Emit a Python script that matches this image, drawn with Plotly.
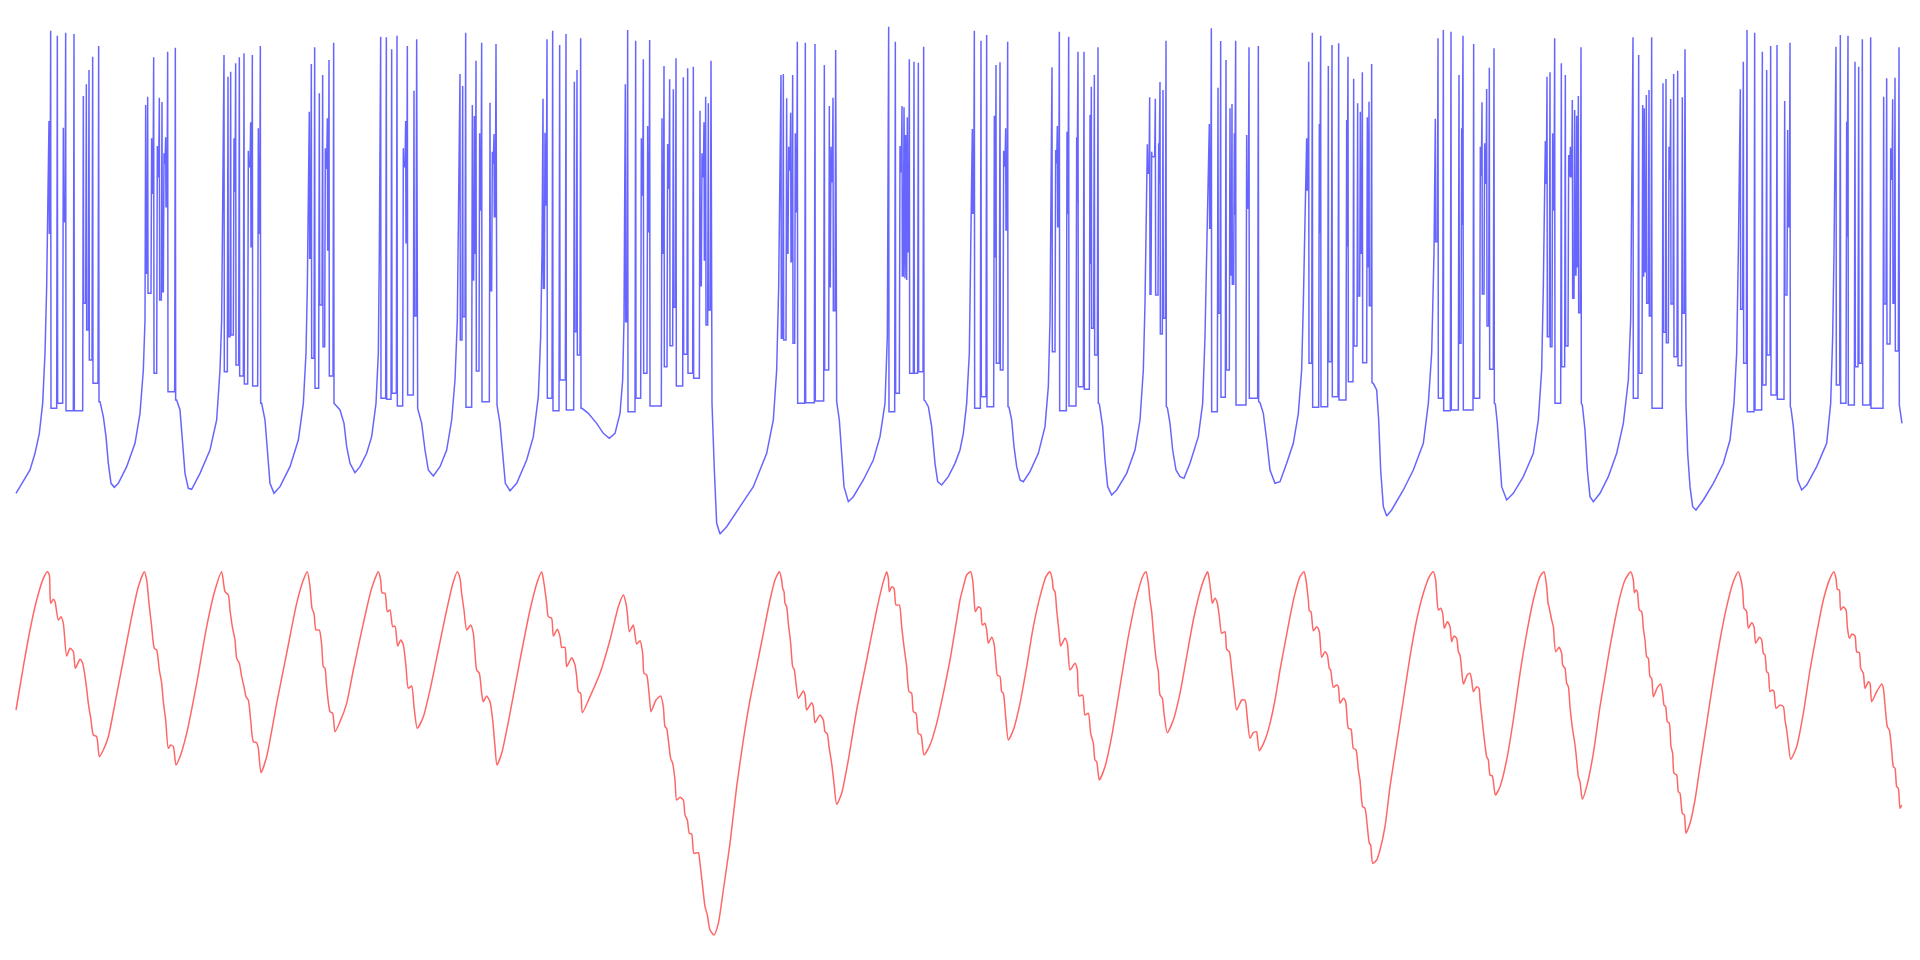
import plotly.graph_objects as go

# ---------------- Blue trace: fast variable (membrane potential, arbitrary units) ----------------
# Each spike: time, peak value, value of the trough that follows it
spike_time = [
    147, 152, 172, 190, 197, 222, 250, 259, 267, 278, 296,
    437, 443, 455, 461, 472, 478, 486, 492, 497, 503, 526,
    672, 684, 692, 702, 707, 718, 732, 745, 752, 757, 775, 781,
    928, 934, 944, 958, 968, 976, 982, 987, 1001,
    1142, 1159, 1175, 1191, 1210, 1217, 1222, 1242, 1250,
    1380, 1388, 1397, 1417, 1423, 1428, 1439, 1445, 1470, 1477, 1482, 1488,
    1629, 1635, 1641, 1658, 1679, 1698, 1723, 1731, 1742,
    1876, 1883, 1907, 1924, 1930, 1943, 1949, 1986, 1992, 2003, 2009, 2020, 2028, 2050, 2063, 2080, 2100, 2106, 2112, 2117, 2125, 2133,
    2343, 2350, 2360, 2366, 2372, 2378, 2386, 2392, 2416, 2445, 2473, 2488, 2493, 2499, 2507,
    2666, 2686, 2700, 2706, 2712, 2717, 2722, 2728, 2742, 2755, 2771,
    2917, 2923, 2943, 2960, 2983, 2988, 3000, 3011, 3017, 3023,
    3156, 3167, 3172, 3178, 3201, 3206, 3230, 3234, 3252, 3270, 3274, 3283, 3294,
    3442, 3449, 3455, 3466, 3476, 3480, 3489, 3498,
    3628, 3634, 3654, 3662, 3678, 3690, 3696, 3703, 3707, 3740, 3747, 3775,
    3920, 3926, 3937, 3958, 3962, 3985, 3996, 4016, 4040, 4044, 4061, 4073, 4081, 4087, 4102, 4107, 4115,
    4306, 4314, 4330, 4353, 4377, 4385, 4389, 4421, 4441, 4446, 4454, 4460, 4468, 4482,
    4636, 4641, 4650, 4658, 4664, 4684, 4696, 4706, 4711, 4717, 4724, 4730, 4735, 4743,
    4899, 4916, 4928, 4933, 4939, 4947, 4955, 4989, 4998, 5007, 5012, 5021, 5033, 5047, 5055,
    5221, 5230, 5241, 5264, 5287, 5300, 5312, 5331, 5354, 5363, 5370,
    5508, 5521, 5540, 5544, 5565, 5576, 5587, 5612, 5651, 5660, 5672, 5678, 5685, 5697,
]
spike_peak = [
    1297, 1568, 1553, 1277, 1562, 1558, 1372, 1407, 1450, 1490, 1522,
    1345, 1370, 1245, 1488, 1222, 1367, 1354, 1200, 1248, 1505, 1517,
    1495, 1430, 1445, 1245, 1470, 1488, 1500, 1208, 1293, 1495, 1275, 1522,
    1325, 1468, 1518, 1380, 1435, 1215, 1305, 1480, 1532,
    1550, 1548, 1512, 1553, 1215, 1297, 1522, 1388, 1542,
    1438, 1402, 1562, 1345, 1312, 1478, 1260, 1532, 1352, 1205, 1258, 1528,
    1364, 1262, 1542, 1568, 1525, 1558, 1415, 1450, 1545,
    1407, 1570, 1538, 1245, 1482, 1282, 1540, 1305, 1462, 1228, 1422, 1392, 1485, 1428, 1455, 1460, 1328, 1200, 1293, 1370, 1350, 1478,
    1435, 1438, 1365, 1220, 1322, 1435, 1260, 1535, 1532, 1528, 1465, 1342, 1220, 1367, 1510,
    1580, 1535, 1222, 1342, 1338, 1255, 1308, 1482, 1475, 1472, 1520,
    1273, 1568, 1538, 1555, 1313, 1465, 1473, 1208, 1275, 1535,
    1458, 1210, 1282, 1565, 1265, 1550, 1248, 1505, 1505, 1315, 1400, 1435, 1518,
    1227, 1368, 1205, 1364, 1230, 1414, 1390, 1538,
    1288, 1575, 1397, 1537, 1480, 1335, 1348, 1260, 1538, 1255, 1518, 1522,
    1245, 1475, 1562, 1288, 1553, 1462, 1525, 1530, 1300, 1490, 1424, 1350, 1325, 1443, 1308, 1355, 1468,
    1304, 1545, 1570, 1565, 1435, 1275, 1553, 1528, 1220, 1353, 1230, 1393, 1457, 1515,
    1237, 1430, 1443, 1260, 1545, 1470, 1435, 1195, 1220, 1360, 1330, 1313, 1372, 1518,
    1548, 1495, 1345, 1335, 1375, 1390, 1548, 1410, 1423, 1220, 1363, 1438, 1448, 1368, 1512,
    1392, 1475, 1570, 1562, 1505, 1450, 1522, 1525, 1357, 1270, 1532,
    1520, 1555, 1295, 1553, 1475, 1460, 1542, 1548, 1370, 1425, 1215, 1362, 1427, 1518,
]
spike_trough = [
    960, 435, 450, 995, 428, 428, 750, 670, 580, 510, 455,
    840, 780, 1080, 540, 1130, 760, 785, 1170, 1040, 485, 460,
    545, 650, 655, 1085, 565, 532, 508, 1160, 920, 502, 960, 450,
    885, 585, 495, 745, 620, 1155, 910, 532, 450,
    465, 462, 480, 442, 1160, 932, 475, 712, 440,
    640, 710, 438, 820, 900, 547, 1030, 455, 788, 1170, 1010, 450,
    795, 1045, 465, 428, 520, 430, 665, 595, 435,
    695, 425, 465, 1075, 540, 965, 442, 900, 560, 1095, 623, 738, 502, 597, 540, 525, 803, 1130, 880, 685, 730, 460,
    645, 640, 900, 1150, 875, 630, 1025, 450, 452, 457, 550, 800, 1115, 728, 460,
    425, 480, 1145, 832, 825, 820, 905, 540, 540, 545, 460,
    1020, 435, 470, 440, 890, 570, 550, 1162, 970, 440,
    605, 1170, 980, 428, 1017, 442, 1055, 500, 492, 868, 675, 595, 450,
    1140, 777, 1190, 775, 1110, 658, 705, 440,
    975, 425, 720, 468, 550, 835, 807, 1015, 445, 1035, 465, 455,
    1090, 570, 438, 960, 440, 575, 470, 460, 920, 515, 622, 772, 900, 572, 860, 743, 512,
    935, 465, 428, 430, 630, 985, 430, 465, 1132, 778, 1110, 682, 552, 450,
    1110, 650, 620, 1030, 450, 560, 622, 1130, 1130, 765, 835, 860, 722, 450,
    465, 540, 830, 845, 750, 712, 435, 663, 632, 1120, 748, 590, 563, 720, 450,
    732, 570, 425, 430, 505, 595, 475, 462, 775, 980, 440,
    505, 450, 950, 445, 560, 570, 445, 435, 748, 628, 1122, 750, 607, 445,
]
# Slow recovery between bursts
rest_time = [
    48, 70, 90, 105, 118, 128, 135, 140, 143,
    300, 310, 318, 325, 333, 343, 355, 380, 405, 420, 430, 435,
    530, 540, 548, 555, 565, 575, 600, 630, 650, 660, 665,
    785, 795, 802, 810, 822, 840, 870, 895, 910, 918, 922,
    1004, 1020, 1032, 1040, 1050, 1065, 1080, 1100, 1115, 1128, 1135, 1138,
    1253, 1265, 1275, 1285, 1300, 1320, 1340, 1355, 1365, 1372,
    1491, 1500, 1508, 1516, 1530, 1550, 1580, 1600, 1615, 1622, 1626,
    1746, 1765, 1790, 1810, 1828, 1845, 1860, 1868, 1872,
    2136, 2143, 2150, 2160, 2180, 2220, 2260, 2300, 2320, 2330, 2336,
    2510, 2518, 2525, 2532, 2545, 2560, 2590, 2620, 2640, 2655, 2662,
    2775, 2785, 2795, 2805, 2813, 2825, 2845, 2865, 2880, 2890, 2900, 2908, 2912,
    3027, 3035, 3042, 3050, 3060, 3070, 3090, 3115, 3135, 3145, 3150,
    3298, 3308, 3315, 3323, 3335, 3350, 3380, 3405, 3420, 3430, 3435,
    3502, 3510, 3518, 3528, 3540, 3552, 3570, 3595, 3608, 3615, 3620,
    3780, 3790, 3800, 3810, 3825, 3840, 3860, 3880, 3895, 3905, 3910,
    4120, 4130, 4136, 4142, 4150, 4160, 4175, 4210, 4240, 4270, 4285, 4295, 4302,
    4486, 4492, 4498, 4505, 4520, 4540, 4570, 4600, 4615, 4625, 4630,
    4747, 4755, 4762, 4770, 4780, 4800, 4825, 4850, 4870, 4885, 4892,
    5058, 5063, 5070, 5078, 5088, 5110, 5140, 5170, 5190, 5202, 5210, 5215,
    5373, 5380, 5386, 5393, 5405, 5420, 5450, 5480, 5492, 5498, 5502,
    5706,
]
rest_value = [
    180, 215, 250, 300, 360, 450, 600, 800, 1000,
    455, 410, 350, 270, 210, 198, 210, 260, 330, 420, 550, 700,
    460, 430, 340, 240, 195, 192, 240, 310, 400, 550, 700,
    450, 400, 310, 210, 180, 200, 260, 340, 450, 600, 800,
    448, 430, 390, 320, 270, 242, 260, 300, 350, 450, 600, 900,
    435, 390, 310, 250, 232, 260, 310, 400, 520, 700,
    445, 390, 300, 210, 188, 210, 280, 350, 470, 650, 900,
    435, 420, 390, 360, 345, 360, 420, 520, 700,
    450, 250, 90, 58, 80, 140, 200, 300, 400, 550, 800,
    455, 400, 300, 200, 155, 170, 220, 280, 350, 450, 650,
    458, 440, 380, 270, 215, 205, 230, 270, 310, 360, 450, 600, 900,
    438, 400, 320, 260, 220, 215, 245, 300, 380, 500, 700,
    448, 380, 280, 200, 175, 190, 240, 310, 400, 550, 750,
    438, 390, 310, 250, 230, 225, 270, 350, 450, 650, 900,
    452, 420, 340, 250, 210, 215, 270, 330, 420, 550, 750,
    510, 490, 400, 250, 140, 112, 130, 190, 250, 330, 450, 600, 900,
    448, 390, 300, 200, 160, 180, 230, 300, 400, 550, 800,
    445, 370, 250, 170, 155, 180, 230, 300, 390, 520, 700,
    448, 300, 200, 140, 130, 160, 210, 270, 340, 450, 600, 900,
    435, 380, 300, 220, 190, 205, 260, 330, 450, 650, 900,
    390,
]

# ---------------- Red trace: slow adaptation variable (arbitrary units) ----------------
red_t = [
    48, 70, 90, 110, 130, 142, 148, 152, 160, 165, 175, 183, 190, 200, 210, 220, 226, 240, 248, 258, 265, 273, 280, 290, 298,
    310, 325, 345, 370, 395, 415, 433, 440, 447, 455, 463, 470, 478, 485, 490, 497, 505, 512, 520, 528,
    540, 560, 590, 620, 645, 665, 675, 685, 690, 697, 705, 710, 718, 725, 732, 738, 745, 752, 760, 770, 775, 783,
    800, 830, 860, 890, 910, 922, 930, 936, 942, 948, 958, 965, 970, 975, 980, 990, 998, 1005,
    1020, 1040, 1060, 1090, 1115, 1135, 1142, 1146, 1155, 1162, 1170, 1178, 1185, 1193, 1202, 1210, 1218, 1225, 1235, 1242, 1252,
    1270, 1290, 1315, 1340, 1360, 1372, 1380, 1385, 1392, 1400, 1412, 1420, 1425, 1430, 1438, 1445, 1450, 1460, 1470, 1478, 1485, 1491,
    1505, 1530, 1560, 1590, 1612, 1625, 1632, 1640, 1645, 1655, 1660, 1672, 1680, 1685, 1695, 1700, 1715, 1725, 1730, 1735, 1742, 1747,
    1770, 1800, 1830, 1855, 1870, 1878, 1882, 1888, 1900, 1910, 1920, 1928, 1932, 1940, 1948, 1953, 1968, 1982, 1990, 1995,
    2000, 2005, 2012, 2018, 2025, 2030, 2040, 2050, 2055, 2062, 2068, 2075, 2082, 2095, 2100, 2108, 2115, 2122, 2130, 2142,
    2155, 2170, 2190, 2210, 2230, 2250, 2270, 2290, 2310, 2325, 2338, 2345, 2348, 2352, 2355, 2360, 2365, 2372, 2378, 2383,
    2388, 2395, 2410, 2415, 2420, 2435, 2440, 2445, 2460, 2470, 2475, 2482, 2487, 2495, 2502, 2510,
    2525, 2545, 2570, 2600, 2630, 2650, 2660, 2665, 2668, 2675, 2682, 2688, 2698, 2705, 2712, 2720, 2727, 2735, 2740, 2748, 2755, 2763, 2772,
    2790, 2810, 2830, 2850, 2870, 2880, 2890, 2900, 2912, 2918, 2922, 2926, 2935, 2942, 2947, 2955, 2960, 2965, 2975, 2982,
    2987, 2992, 3000, 3005, 3010, 3017, 3025,
    3040, 3060, 3080, 3100, 3120, 3138, 3150, 3157, 3160, 3165, 3170, 3177, 3182, 3195, 3202, 3210, 3225, 3232, 3237, 3248,
    3255, 3265, 3272, 3280, 3285, 3290, 3298,
    3315, 3335, 3360, 3385, 3410, 3430, 3438, 3445, 3450, 3455, 3460, 3468, 3475, 3480, 3487, 3492, 3502,
    3520, 3540, 3560, 3580, 3600, 3615, 3623, 3628, 3633, 3637, 3645, 3652, 3658, 3665, 3675, 3680, 3688, 3695, 3702, 3710,
    3725, 3735, 3742, 3750, 3760, 3770, 3772, 3778,
    3795, 3810, 3825, 3840, 3855, 3870, 3885, 3900, 3912, 3918, 3925, 3928, 3933, 3940, 3950, 3958, 3965, 3975, 3982, 3988,
    3992, 4000, 4010, 4015, 4020, 4030, 4037, 4045, 4053, 4060, 4068, 4075, 4080, 4088, 4095, 4102, 4108, 4112, 4118,
    4130, 4140, 4155, 4170, 4190, 4210, 4230, 4250, 4270, 4288, 4300, 4307, 4310, 4315, 4322, 4328, 4333, 4342, 4350, 4355,
    4362, 4370, 4375, 4380, 4385, 4390, 4402, 4410, 4415, 4420, 4430, 4437, 4440, 4446, 4452, 4460, 4465, 4470, 4477, 4486,
    4500, 4520, 4540, 4560, 4580, 4600, 4620, 4632, 4640, 4644, 4648, 4655, 4660, 4667, 4677, 4685, 4688, 4695, 4700, 4705,
    4710, 4718, 4723, 4728, 4735, 4740, 4747,
    4760, 4780, 4800, 4815, 4830, 4845, 4860, 4875, 4892, 4900, 4903, 4908, 4912, 4918, 4925, 4930, 4935, 4940, 4945, 4950,
    4955, 4960, 4972, 4982, 4988, 4992, 4997, 5002, 5008, 5013, 5018, 5022, 5030, 5035, 5040, 5047, 5053, 5058,
    5070, 5085, 5100, 5120, 5140, 5160, 5180, 5200, 5215, 5223, 5228, 5232, 5237, 5240, 5245, 5255, 5262, 5267, 5278, 5285,
    5290, 5295, 5300, 5305, 5310, 5317, 5322, 5328, 5340, 5350, 5355, 5360, 5365, 5372,
    5390, 5410, 5430, 5450, 5470, 5490, 5502, 5508, 5512, 5518, 5522, 5530, 5538, 5542, 5548, 5556, 5565, 5570, 5578, 5582,
    5590, 5595, 5605, 5610, 5615, 5630, 5645, 5650, 5655, 5662, 5668, 5675, 5680, 5685, 5690, 5695, 5700, 5705,
]
red_u = [
    750, 880, 990, 1080, 1145, 1165, 1155, 1070, 1082, 1075, 1020, 1030, 1010, 912, 935, 925, 875, 902, 890, 830, 770, 720, 675, 670, 610,
    630, 670, 770, 900, 1030, 1120, 1165, 1140, 1070, 1000, 935, 930, 870, 830, 775, 720, 635, 645, 640, 585,
    610, 680, 830, 1000, 1110, 1165, 1105, 1095, 1050, 1000, 960, 905, 890, 850, 820, 790, 780, 720, 655, 652, 635, 562,
    610, 770, 920, 1070, 1140, 1165, 1120, 1055, 1040, 990, 990, 945, 880, 875, 820, 745, 740, 685,
    715, 770, 870, 1010, 1115, 1165, 1140, 1102, 1100, 1045, 1050, 1000, 1002, 942, 960, 945, 880, 815, 822, 760, 695,
    730, 810, 930, 1050, 1135, 1165, 1145, 1100, 1050, 990, 1005, 980, 920, 870, 860, 800, 775, 792, 775, 720, 640, 585,
    620, 740, 900, 1050, 1135, 1165, 1130, 1070, 1030, 1025, 972, 992, 970, 938, 938, 880, 907, 885, 850, 805, 800, 742,
    790, 860, 960, 1060, 1095, 1070, 1040, 985, 1005, 948, 958, 920, 860, 855, 790, 745, 780, 792, 760, 700,
    695, 660, 605, 590, 540, 480, 488, 480, 435, 420, 380, 378, 320, 322, 290, 220, 160, 135, 90, 75,
    110, 210, 350, 520, 660, 780, 880, 980, 1080, 1140, 1165, 1140, 1115, 1105, 1070, 1060, 1010, 950, 880, 870,
    830, 785, 807, 795, 750, 772, 760, 712, 735, 720, 685, 678, 640, 590, 530, 467,
    500, 600, 750, 900, 1050, 1135, 1165, 1145, 1105, 1120, 1115, 1065, 1065, 1000, 940, 880, 805, 800, 745, 740, 680, 675, 615,
    645, 710, 800, 900, 1020, 1080, 1120, 1155, 1165, 1140, 1090, 1045, 1060, 1055, 1005, 1010, 990, 950, 968, 950,
    900, 855, 850, 805, 800, 730, 660,
    690, 770, 880, 1000, 1090, 1150, 1165, 1140, 1112, 1105, 1050, 985, 942, 965, 950, 870, 890, 870, 792, 795,
    735, 740, 680, 650, 600, 595, 540,
    580, 670, 820, 970, 1090, 1155, 1165, 1130, 1080, 1045, 985, 905, 865, 795, 785, 740, 682,
    720, 800, 910, 1020, 1105, 1150, 1165, 1140, 1100, 1070, 1085, 1070, 1030, 980, 985, 932, 925, 870, 810, 750,
    780, 780, 725, 665, 682, 685, 670, 628,
    660, 710, 780, 870, 950, 1030, 1100, 1150, 1165, 1140, 1080, 1048, 1045, 988, 1000, 985, 908, 925, 915, 875,
    870, 818, 825, 820, 770, 785, 775, 695, 692, 635, 630, 570, 540, 460, 455, 400, 350, 345, 290,
    300, 330, 400, 520, 650, 780, 910, 1020, 1100, 1150, 1165, 1140, 1100, 1050, 1055, 1040, 995, 1015, 1000, 955,
    972, 965, 925, 915, 870, 828, 855, 860, 840, 805, 820, 815, 780, 725, 670, 610, 600, 555, 552, 495,
    520, 600, 720, 860, 980, 1080, 1150, 1165, 1120, 1072, 1055, 1020, 1000, 925, 938, 920, 885, 875, 830, 820,
    760, 690, 660, 620, 550, 535, 482,
    520, 620, 760, 850, 940, 1020, 1090, 1140, 1165, 1140, 1102, 1110, 1105, 1050, 1045, 995, 960, 910, 905, 850,
    845, 790, 817, 828, 800, 765, 760, 715, 710, 640, 620, 560, 555, 505, 500, 440, 435, 380,
    410, 480, 580, 710, 840, 960, 1060, 1135, 1165, 1140, 1110, 1055, 1050, 1045, 995, 1012, 1000, 950, 968, 960,
    920, 915, 865, 860, 805, 810, 805, 755, 765, 760, 720, 690, 650, 602,
    640, 740, 870, 980, 1080, 1145, 1165, 1145, 1112, 1110, 1050, 1060, 1050, 1000, 965, 978, 972, 925, 922, 875,
    860, 815, 835, 830, 775, 805, 828, 815, 765, 700, 690, 630, 580, 575, 520, 515, 455, 465,
]

# ---------------- assemble the blue polyline in time order ----------------
events = [(t, 0, p, tr) for t, p, tr in zip(spike_time, spike_peak, spike_trough)]
events += [(t, 1, v, None) for t, v in zip(rest_time, rest_value)]
events.sort(key=lambda e: (e[0], e[1]))

blue_x, blue_y = [], []
prev = None
for t, kind, v, tr in events:
    if kind == 0:
        if prev is not None and prev[0] == 0 and t - 2 > prev[1] + 1.5:
            blue_x.append(t - 2)
            blue_y.append(prev[2])
        blue_x += [t, t + 1]
        blue_y += [v, tr]
        prev = (0, t + 1, tr)
    else:
        blue_x.append(t)
        blue_y.append(v)
        prev = (1, t, v)

fig = go.Figure()
fig.add_trace(go.Scatter(
    x=blue_x, y=blue_y, mode="lines", yaxis="y",
    line=dict(color="rgba(0,0,255,0.6)", width=1.5),
    hoverinfo="skip", name="x",
))
fig.add_trace(go.Scatter(
    x=red_t, y=red_u, mode="lines", yaxis="y2",
    line=dict(color="rgba(255,0,0,0.6)", width=1.5, shape="spline", smoothing=0.6),
    hoverinfo="skip", name="z",
))
fig.update_layout(
    showlegend=False,
    margin=dict(l=0, r=0, t=0, b=0),
    paper_bgcolor="white",
    plot_bgcolor="white",
    xaxis=dict(range=[24, 5736], visible=False),
    yaxis=dict(range=[-1196, 1636], visible=False),
    yaxis2=dict(range=[24, 2856], visible=False, overlaying="y"),
)
fig.write_html("out.html")
